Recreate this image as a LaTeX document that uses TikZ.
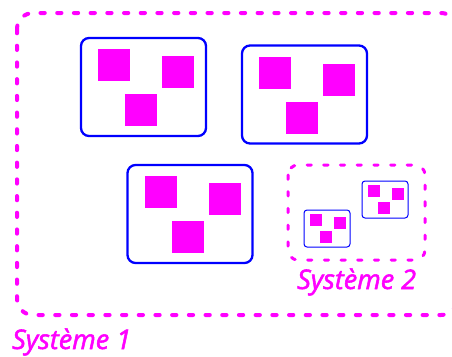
\documentclass[tikz,border=0pt]{standalone}
\usepackage{fontspec}
\setmainfont{Open Sans}
\newfontfamily\labelfont[ItalicFeatures={FakeBold=2}]{Open Sans}
\definecolor{mag}{RGB}{255,0,255}
\definecolor{blu}{RGB}{0,0,255}
\begin{document}
\begin{tikzpicture}[x=1pt,y=-1pt,
  sysbox/.style={draw=mag, line width=4pt, dash pattern=on 4.3pt off 12.4pt, line cap=round, rounded corners=16pt},
  subsys/.style={draw=mag, line width=3pt, dash pattern=on 4.3pt off 12.4pt, line cap=round, rounded corners=10pt},
  bigbox/.style={draw=blu, line width=2.3pt, rounded corners=8pt, minimum width=125pt, minimum height=98pt, inner sep=0pt, outer sep=0pt},
  smallbox/.style={draw=blu, line width=1pt, rounded corners=3pt, minimum width=46pt, minimum height=37pt, inner sep=0pt, outer sep=0pt},
  bigsq/.style={fill=mag, minimum size=32pt, inner sep=0pt, outer sep=0pt},
  smallsq/.style={fill=mag, minimum size=12pt, inner sep=0pt, outer sep=0pt},
  label/.style={text=mag, font=\labelfont\itshape\fontsize{27}{32}\selectfont, inner sep=0pt, anchor=base west}
]
\useasboundingbox (0,0) rectangle (452,356);
% outer system
\draw[sysbox] (17,13) rectangle (457,315);
\node[label] (l1) at (12,349) {Système 1};
% inner system
\draw[subsys] (288,165) rectangle (425,260);
\node[label] (l2) at (297,289) {Système 2};
% big boxes
\foreach \n/\cx/\cy in {b1/143.5/87, b2/304.5/94.5, b3/190/214}{
  \node[bigbox] (\n) at (\cx,\cy) {};
  \node[bigsq] (\n a) at ([xshift=33pt,yshift=-27pt]\n.north west) {};
  \node[bigsq] (\n b) at ([xshift=97pt,yshift=-34pt]\n.north west) {};
  \node[bigsq] (\n c) at ([xshift=60pt,yshift=-72pt]\n.north west) {};
}
% small boxes
\foreach \n/\cx/\cy in {s1/327/228.5, s2/385/199.5}{
  \node[smallbox] (\n) at (\cx,\cy) {};
  \node[smallsq] (\n a) at ([xshift=12pt,yshift=-10pt]\n.north west) {};
  \node[smallsq] (\n b) at ([xshift=36pt,yshift=-13pt]\n.north west) {};
  \node[smallsq] (\n c) at ([xshift=22pt,yshift=-27pt]\n.north west) {};
}
\end{tikzpicture}
\end{document}
